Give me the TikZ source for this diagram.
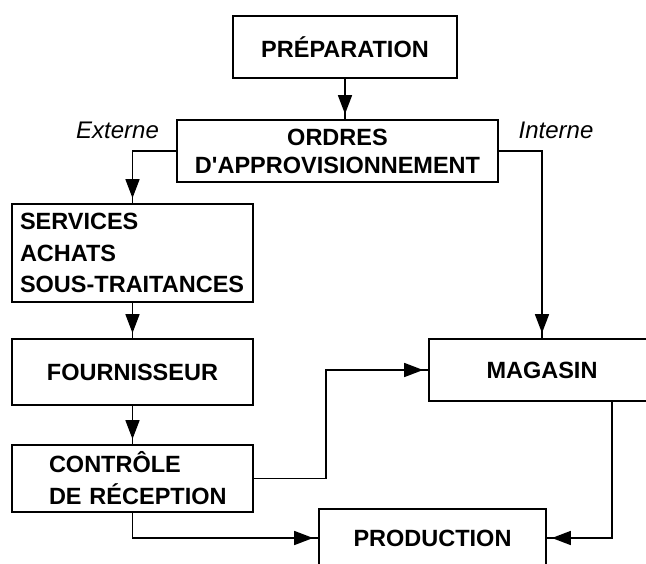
\documentclass[tikz,border=0pt]{standalone}
\usepackage{fontspec}
\setmainfont{Liberation Sans}
\usetikzlibrary{arrows.meta,decorations.markings}
\begin{document}
\begin{tikzpicture}[x=1pt,y=-1pt,
  box/.style={draw, line width=1.8pt, rectangle, inner sep=0pt,
    font=\bfseries\fontsize{23.5}{28}\selectfont},
  conn/.style={line width=1.7pt, postaction={decorate},
    decoration={markings, mark=at position -5pt with
      {\arrow{Triangle[length=19pt,width=14pt]}}}},
  tag/.style={inner sep=0pt, font=\itshape\fontsize{24}{28}\selectfont}]
  % page frame
  \useasboundingbox (0,0) rectangle (646,563);
  \fill[white] (0,0) rectangle (646,563);
  \clip (0,0) rectangle (646,563);

  % boxes
  \node[box, minimum width=224pt, minimum height=62pt] (prep) at (345,47) {PRÉPARATION};
  \node[box, minimum width=321pt, minimum height=62pt, align=center] (ordres) at (337.5,151)
    {ORDRES\\D\textquotesingle APPROVISIONNEMENT};
  \node[box, minimum width=241pt, minimum height=98pt, text width=225pt, align=left,
    font=\bfseries\fontsize{23.5}{31.5}\selectfont] (serv) at (132.5,253)
    {SERVICES\\ACHATS\\SOUS-TRAITANCES};
  \node[box, minimum width=241pt, minimum height=66pt] (four) at (132.5,372) {FOURNISSEUR};
  \node[box, minimum width=241pt, minimum height=67pt, text width=225pt, align=left,
    font=\bfseries\fontsize{23.5}{32}\selectfont] (ctrl) at (132.5,478.5)
    {\hspace*{29pt}CONTRÔLE\\\hspace*{29pt}DE RÉCEPTION};
  \node[box, minimum width=226pt, minimum height=62pt] (mag) at (542,370) {MAGASIN};
  \node[box, minimum width=227pt, minimum height=58pt] (prod) at (432.5,538) {PRODUCTION};

  % branch labels
  \node[tag] (ext) at (117.5,130) {Externe};
  \node[tag] (int) at (556,130) {Interne};

  % connectors
  \draw[conn] (prep.south) -- (prep.south |- ordres.north);
  \draw[conn] (ordres.west) -| (serv.north);
  \draw[conn] (ordres.east) -| (mag.north);
  \draw[conn] (serv.south) -- (four.north);
  \draw[conn] (four.south) -- (ctrl.north);
  \draw[conn] (ctrl.east) -- ++(72,0) |- (mag.west);
  \draw[conn] (ctrl.south) |- (prod.west);
  \draw[conn] ([xshift=70pt]mag.south) |- (prod.east);
\end{tikzpicture}
\end{document}
